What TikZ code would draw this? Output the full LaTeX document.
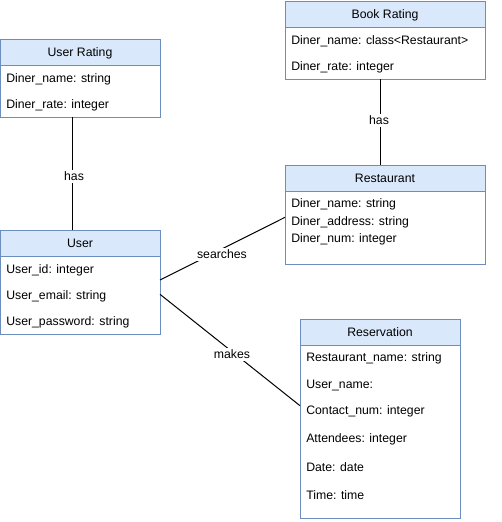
\documentclass[tikz,border=0pt]{standalone}
\usepackage{fontspec}
\setmainfont{Liberation Sans}
\def\u{0.75pt}
\definecolor{hdrfill}{HTML}{DAE8FC}
\definecolor{hdrline}{HTML}{6C8EBF}
\tikzset{
  txt/.style={font=\fontsize{9.2}{11}\selectfont},
  hdr/.style={txt, draw=hdrline, fill=hdrfill, line width=\u, anchor=north west,
              minimum height=26*\u, inner sep=0pt, outer sep=0pt, text depth=0pt,
              text height=6.6pt},
  body/.style={draw=hdrline, fill=white, line width=\u, anchor=north west,
               inner sep=0pt, outer sep=0pt},
  field/.style={txt, anchor=west, inner sep=0pt, yshift=-1.2*\u},
  link/.style={draw=black, line width=\u},
  lbl/.style={txt, fill=white, inner sep=1.5pt}
}
\begin{document}
\begin{tikzpicture}[x=0.75pt,y=-0.75pt]
\useasboundingbox (0,0) rectangle (501,522);

% User Rating
\node[hdr, minimum width=160*\u] (urh) at (0,39) {User Rating};
\node[body, minimum width=160*\u, minimum height=52*\u] (urb) at (0,65) {};
\node[field] (ur1) at (6,78) {Diner\_name: string};
\node[field] (ur2) at (6,104) {Diner\_rate: integer};

% Book Rating
\node[hdr, minimum width=200*\u] (brh) at (285,1) {Book Rating};
\node[body, minimum width=200*\u, minimum height=52*\u] (brb) at (285,27) {};
\node[field] (br1) at (291,40) {Diner\_name: class<Restaurant>};
\node[field] (br2) at (291,66) {Diner\_rate: integer};

% User
\node[hdr, minimum width=160*\u] (uh) at (0,230) {User};
\node[body, minimum width=160*\u, minimum height=78*\u] (ub) at (0,256) {};
\node[field] (u1) at (6,269) {User\_id: integer};
\node[field] (u2) at (6,295) {User\_email: string};
\node[field] (u3) at (6,321) {User\_password: string};

% Restaurant
\node[hdr, minimum width=200*\u] (rh) at (285,165) {Restaurant};
\node[body, minimum width=200*\u, minimum height=73*\u] (rb) at (285,191) {};
\node[field] (r1) at (291,203.5) {Diner\_name: string};
\node[field] (r2) at (291,221) {Diner\_address: string};
\node[field] (r3) at (291,238.5) {Diner\_num: integer};

% Reservation
\node[hdr, minimum width=160*\u] (vh) at (300,319) {Reservation};
\node[body, minimum width=160*\u, minimum height=173*\u] (vb) at (300,345) {};
\node[field] (v1) at (306,357.5) {Restaurant\_name: string};
\node[field] (v2) at (306,384) {User\_name:};
\node[field] (v3) at (306,410) {Contact\_num: integer};
\node[field] (v4) at (306,438) {Attendees: integer};
\node[field] (v5) at (306,466) {Date: date};
\node[field] (v6) at (306,494) {Time: time};

% Relations
\draw[link] ([xshift=-7.5*\u]urb.south) -- ([xshift=-7.5*\u]uh.north);
\node[lbl] (lhas1) at (74,176) {has};

\draw[link] ([xshift=-5*\u]brb.south) -- ([xshift=-5*\u]rh.north);
\node[lbl] (lhas2) at (379,120) {has};

\draw[link] ([yshift=-24*\u]ub.north east) -- ([yshift=-26.3*\u]rb.north west);
\node[lbl] (lsearch) at (222,254) {searches};

\draw[link] ([yshift=-38.3*\u]ub.north east) -- ([yshift=-60.7*\u]vb.north west);
\node[lbl] (lmakes) at (232,354) {makes};
\end{tikzpicture}
\end{document}
